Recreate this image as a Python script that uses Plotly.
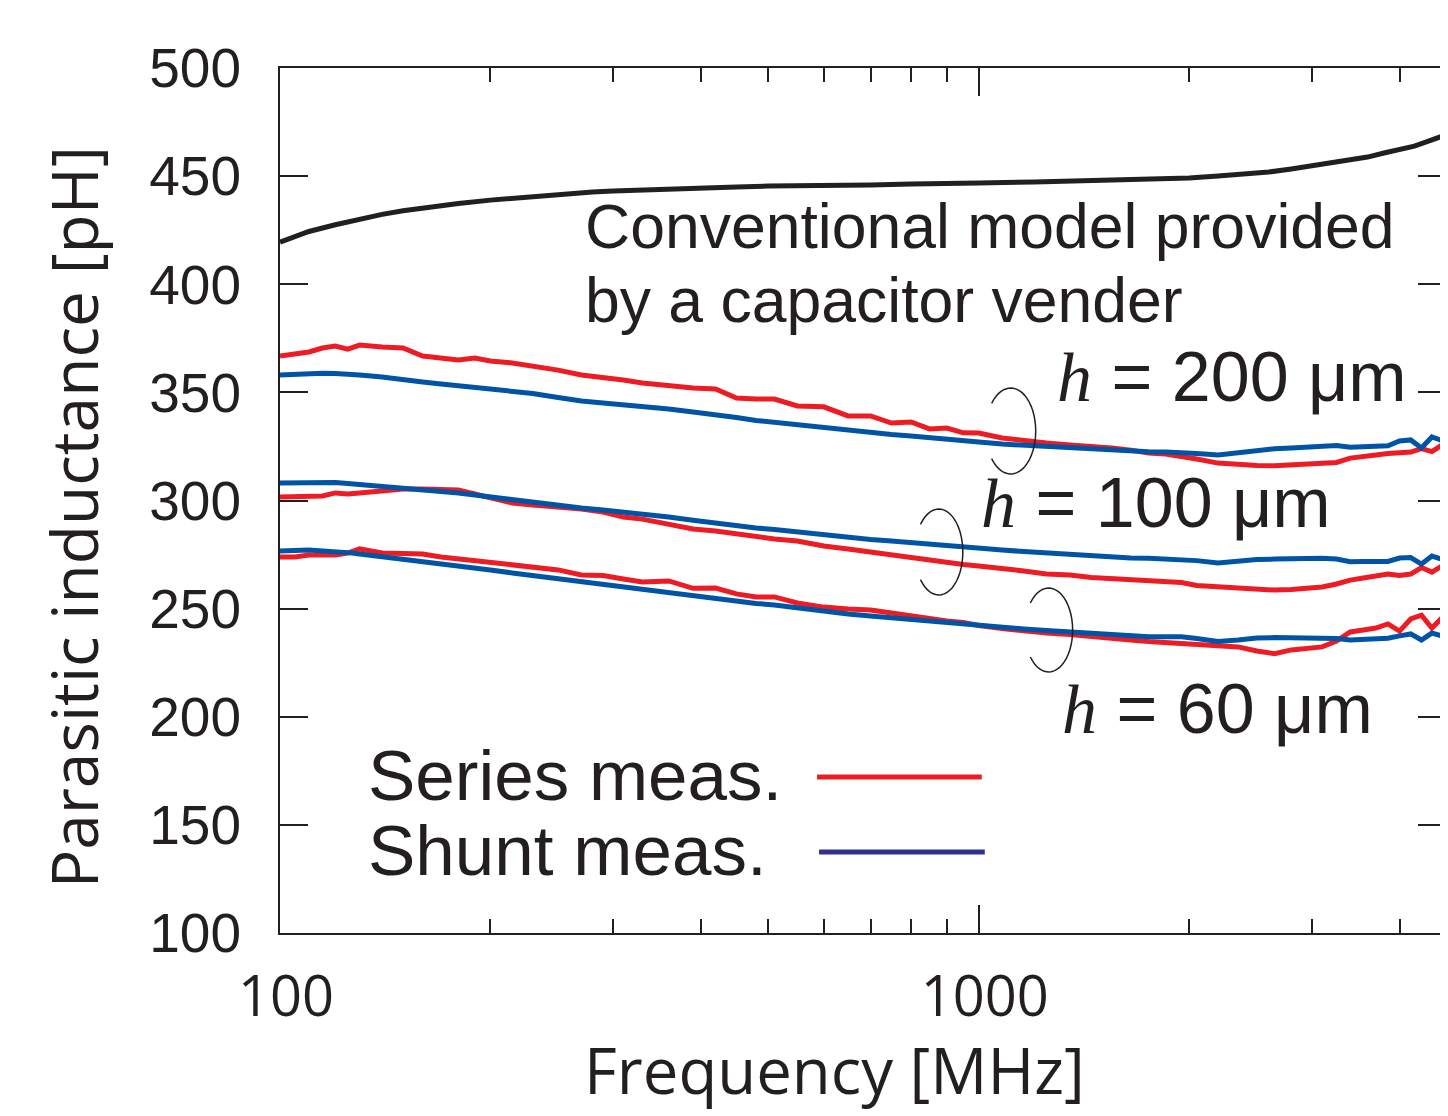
import math
import plotly.graph_objects as go

# ---------------- data ----------------
freq_meas = [100, 105, 110, 115, 120, 125, 130, 140, 150, 160, 170, 180, 190, 200,
             215, 230, 250, 270, 290, 310, 330, 360, 390, 420, 450, 480, 510, 550,
             600, 650, 700, 750, 800, 850, 900, 950, 1000, 1080, 1160, 1250, 1350, 1450,
             1550, 1650, 1750, 1850, 1950, 2050, 2200, 2350, 2500, 2650, 2800, 2950, 3100,
             3250, 3400, 3550, 3700, 3850, 4000, 4150, 4300, 4450, 4600, 4700]

series_h200 = [366.8, 367.7, 368.7, 370.5, 371.4, 370.0, 371.9, 371.0, 370.5, 366.8, 365.9, 365.0, 365.9, 364.5,
               363.6, 362.2, 360.3, 358.0, 357.1, 355.7, 354.3, 352.9, 352.0, 351.6, 347.4, 346.9, 346.9, 343.7,
               343.3, 339.1, 339.1, 335.8, 336.3, 333.1, 333.5, 331.3, 331.2, 328.9, 327.6, 326.6, 325.7, 325.2,
               324.3, 323.3, 322.0, 321.5, 320.6, 319.2, 317.3, 316.6, 316.2, 316.1, 316.4, 316.6, 316.9,
               317.6, 319.6, 320.1, 321.0, 321.7, 322.0, 322.4, 324.0, 322.6, 325.7, 327.0]
shunt_h200 = [358.0, 358.5, 358.9, 358.9, 358.7, 358.5, 358.0, 357.1, 356.2, 354.8, 353.9, 353.0, 352.3, 351.6,
              350.6, 349.5, 347.6, 346.0, 345.1, 344.4, 343.7, 342.3, 340.9, 339.8, 338.4, 337.0, 336.1, 334.7,
              333.3, 332.1, 331.2, 330.5, 329.8, 328.9, 328.2, 327.5, 327.0, 326.1, 325.5, 324.9, 324.3, 323.8,
              323.3, 322.9, 322.6, 322.4, 322.2, 321.7, 321.0, 322.0, 323.3, 323.9, 324.3, 324.7, 325.4,
              325.4, 324.6, 325.0, 325.2, 325.3, 327.5, 328.0, 324.3, 329.4, 327.7, 329.8]
series_h100 = [301.6, 301.6, 301.9, 302.1, 303.5, 303.0, 303.5, 304.4, 305.3, 305.3, 305.3, 304.9, 303.0, 301.2,
               298.8, 297.9, 297.0, 296.1, 294.7, 292.4, 291.4, 289.1, 286.8, 285.9, 284.5, 283.1, 282.2, 281.3,
               279.0, 277.6, 276.2, 274.8, 273.6, 272.5, 271.1, 270.4, 269.7, 268.8, 267.4, 266.0, 265.5, 264.4,
               263.9, 263.5, 263.0, 262.8, 262.1, 260.7, 260.0, 259.3, 258.8, 258.6, 258.8, 259.3, 260.0,
               261.4, 263.2, 264.2, 265.1, 266.0, 265.3, 266.0, 269.0, 266.9, 269.7, 270.6]
shunt_h100 = [308.1, 308.3, 308.5, 308.5, 308.3, 307.9, 307.4, 306.7, 306.0, 305.3, 304.4, 303.5, 302.5, 301.6,
              300.2, 298.8, 297.5, 296.5, 295.6, 294.7, 293.8, 292.4, 290.9, 289.6, 288.2, 287.3, 286.6, 285.4,
              284.0, 282.9, 282.0, 281.3, 280.5, 279.6, 279.0, 278.3, 277.8, 277.1, 276.4, 275.7, 275.0, 274.3,
              273.9, 273.4, 273.3, 272.9, 272.8, 272.2, 271.1, 272.0, 272.7, 272.9, 273.2, 273.3, 273.3,
              272.9, 271.7, 271.8, 271.8, 271.8, 273.4, 273.6, 270.6, 274.3, 272.9, 274.3]
series_h60 = [273.9, 273.9, 274.8, 274.8, 274.8, 275.7, 277.6, 275.7, 275.7, 275.3, 273.9, 273.0, 272.5, 271.8,
              270.7, 269.7, 267.9, 265.6, 265.3, 263.7, 262.3, 262.8, 259.4, 259.5, 256.8, 255.4, 255.4, 252.6,
              250.7, 249.8, 249.4, 248.0, 246.6, 245.2, 244.3, 243.6, 242.2, 240.8, 239.6, 238.7, 238.0, 237.3,
              236.4, 235.5, 234.8, 234.3, 233.9, 233.4, 233.2, 232.3, 230.4, 229.2, 230.9, 231.6, 232.3,
              235.0, 239.2, 240.1, 241.0, 242.9, 239.6, 245.2, 247.0, 241.0, 245.7, 246.6]
shunt_h60 = [276.6, 276.9, 277.1, 276.6, 276.4, 275.9, 275.3, 274.1, 273.0, 271.8, 270.6, 269.7, 268.8, 267.9,
             266.5, 265.3, 263.7, 262.6, 261.4, 260.3, 259.1, 257.7, 256.1, 254.7, 253.5, 252.4, 251.7, 250.3,
             248.9, 247.5, 246.6, 245.7, 245.0, 244.1, 243.4, 242.8, 242.2, 241.3, 240.6, 239.9, 239.2, 238.5,
             238.0, 237.6, 237.0, 237.0, 237.0, 236.2, 234.8, 235.5, 236.4, 236.6, 236.6, 236.6, 236.4,
             236.2, 235.5, 235.7, 236.0, 236.3, 237.4, 238.3, 235.5, 238.7, 237.4, 238.3]

freq_model = [100, 110, 120, 130, 140, 150, 160, 180, 200, 220, 250, 280, 300, 350,
              400, 450, 500, 560, 630, 700, 800, 900, 1000, 1200, 1400, 1600, 1800, 2000,
              2200, 2400, 2600, 2800, 3000, 3200, 3400, 3600, 3800, 4000, 4200, 4400, 4700]
model_L = [419.5, 424.4, 427.5, 430.2, 432.3, 434.0, 435.3, 437.3, 438.9, 440.1, 441.4, 442.7, 443.1, 444.0,
           444.5, 445.0, 445.4, 445.4, 445.9, 445.9, 446.4, 446.4, 446.8, 447.3, 447.7, 448.2, 448.7, 449.1,
           450.1, 451.0, 451.9, 453.3, 454.7, 456.1, 457.5, 458.8, 460.7, 462.1, 463.9, 466.2, 469.5]

x_tickvals = [100, 1000]
x_ticktext = ["100", "1000"]
x_minor = [200, 300, 400, 500, 600, 700, 800, 900, 2000, 3000, 4000]
y_ticks = [100, 150, 200, 250, 300, 350, 400, 450, 500]

# ---------------- style ----------------
# The page body has an 8px margin; the figure is sized so the plot area
# lands at screen x 280..1448, y 68..933.
OFF = 8
W, H = 1448 - OFF, 1116 - OFF
PL, PT, PR, PB = 280, 68, 1448, 933           # plot area in screen pixels
ML, MT = PL - OFF, PT - OFF
MR = (W + OFF) - PR
MB = (H + OFF) - PB
PW, PH = PR - PL, PB - PT
X_MAX = 2 + PW / 700.0      # one decade ~ 700 px

RED = "#ED1C24"
BLUE = "#0054A6"
NAVY = "#2E3192"
INK = "#231F20"
SANS = "Liberation Sans, Arial, sans-serif"
MYR = "Open Sans, sans-serif"


def px(x):
    return (x - PL) / PW


def py(y):
    return (PB - y) / PH


fig = go.Figure()
fig.add_trace(go.Scatter(x=freq_model, y=model_L, mode="lines",
                         line=dict(color=INK, width=5), name="Conventional model"))
for s, sh in [(series_h200, shunt_h200), (series_h100, shunt_h100), (series_h60, shunt_h60)]:
    fig.add_trace(go.Scatter(x=freq_meas, y=s, mode="lines",
                             line=dict(color=RED, width=5), name="Series meas."))
    fig.add_trace(go.Scatter(x=freq_meas, y=sh, mode="lines",
                             line=dict(color=BLUE, width=5), name="Shunt meas."))

shapes = []


def arc(cx, cy, rx, ry, a0=-140, a1=140, n=40):
    pts = []
    for i in range(n + 1):
        t = math.radians(a0 + (a1 - a0) * i / n)
        pts.append((px(cx + rx * math.cos(t)), py(cy + ry * math.sin(t))))
    d = "M %.5f %.5f " % pts[0] + " ".join("L %.5f %.5f" % p for p in pts[1:])
    return dict(type="path", path=d, xref="paper", yref="paper",
                line=dict(color=INK, width=1.5))


shapes.append(arc(1012, 431, 25, 43))
shapes.append(arc(940, 552, 24, 43))
shapes.append(arc(1050, 630, 24, 42))

# legend samples
shapes.append(dict(type="line", xref="paper", yref="paper", x0=px(818), x1=px(983),
                   y0=py(777), y1=py(777), line=dict(color=RED, width=5)))
shapes.append(dict(type="line", xref="paper", yref="paper", x0=px(820), x1=px(986),
                   y0=py(852), y1=py(852), line=dict(color=NAVY, width=5)))

ann = []


def text(t, x, y, size, font=SANS, xanchor="left", angle=0):
    ann.append(dict(text=t, x=px(x), y=py(y), xref="paper", yref="paper",
                    xanchor=xanchor, yanchor="middle", showarrow=False, textangle=angle,
                    font=dict(family=font, size=size, color=INK)))


hi = "<span style='font-family:Liberation Serif, Times New Roman, serif'><i>h</i></span>"
text("Conventional model provided", 584, 226, 62.5)
text("by a capacitor vender", 584, 300, 62.5)
text(hi + " = 200 μm", 1056, 377, 70)
text(hi + " = 100 μm", 980, 503, 70)
text(hi + " = 60 μm", 1061, 709, 70)
text("Series meas.", 366, 775, 71)
text("Shunt meas.", 366, 850, 71)
text("Frequency [MHz]", 835, 1069, 63.5, font=MYR, xanchor="center")
text("Parasitic inductance [pH]", 73, 517, 64, font=MYR, xanchor="center", angle=-90)

fig.update_layout(
    width=W, height=H,
    margin=dict(l=ML, r=MR, t=MT, b=MB, pad=0),
    paper_bgcolor="white", plot_bgcolor="white",
    showlegend=False,
    shapes=shapes, annotations=ann,
    xaxis=dict(type="log", range=[2, X_MAX], showgrid=False, zeroline=False,
               showline=True, linecolor=INK, linewidth=2, mirror="ticks",
               ticks="inside", ticklen=28, tickwidth=2, tickcolor=INK,
               tickvals=x_tickvals, ticktext=x_ticktext, ticklabelstandoff=14,
               ticklabelshift=6,
               tickfont=dict(family=MYR, size=56, color=INK),
               minor=dict(tickvals=x_minor, ticks="inside", ticklen=14, tickwidth=2,
                          tickcolor=INK, showgrid=False)),
    yaxis=dict(range=[100, 500], showgrid=False, zeroline=False,
               showline=True, linecolor=INK, linewidth=2, mirror="ticks",
               ticks="inside", ticklen=28, tickwidth=2, tickcolor=INK,
               tickvals=y_ticks, ticklabelstandoff=26,
               tickfont=dict(family=SANS, size=55, color=INK)),
)

fig.write_html("out.html")
